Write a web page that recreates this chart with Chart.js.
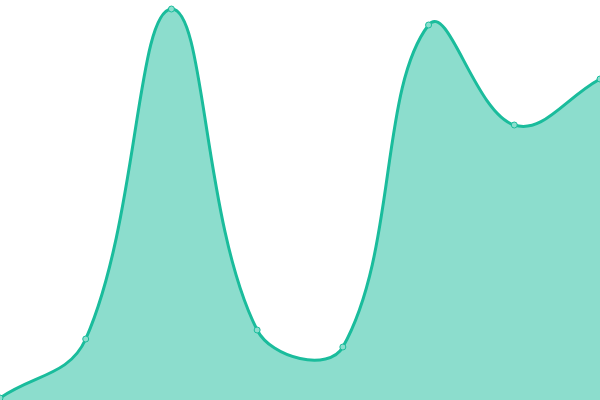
<!DOCTYPE html>
<html>
<head>
<meta charset="utf-8">
<script src="https://cdn.jsdelivr.net/npm/chart.js@4"></script>
<style>
  html, body { margin: 0; padding: 0; background: #fff; }
  #wrap { width: 600px; height: 400px; }
</style>
</head>
<body>
<div id="wrap"><canvas id="myChart"></canvas></div>
<script>
'use strict';
let labels = ['1', '2', '3', '4', '5', '6', '7', '8'];
let values = [0.5, 15.25, 97.75, 17.5, 13.25, 93.75, 68.75, 80.25];
let yMin = 0;
let yMax = 100;

const data = {
  labels: labels,
  datasets: [{
    data: values,
    fill: true,
    borderColor: 'rgb(26, 188, 156)',
    backgroundColor: 'rgba(26, 188, 156, 0.5)',
    borderWidth: 3,
    tension: 0.4,
    pointRadius: 3,
    pointBorderWidth: 1,
    pointBackgroundColor: 'rgb(140, 222, 206)',
    pointBorderColor: 'rgb(26, 188, 156)'
  }]
};

const config = {
  type: 'line',
  data: data,
  options: {
    responsive: true,
    maintainAspectRatio: false,
    animation: false,
    layout: { padding: 0, autoPadding: false },
    plugins: {
      legend: { display: false },
      tooltip: { enabled: false }
    },
    scales: {
      x: { display: false },
      y: { display: false, min: yMin, max: yMax }
    }
  }
};

let myChart = new Chart(document.getElementById('myChart'), config);
</script>
</body>
</html>
